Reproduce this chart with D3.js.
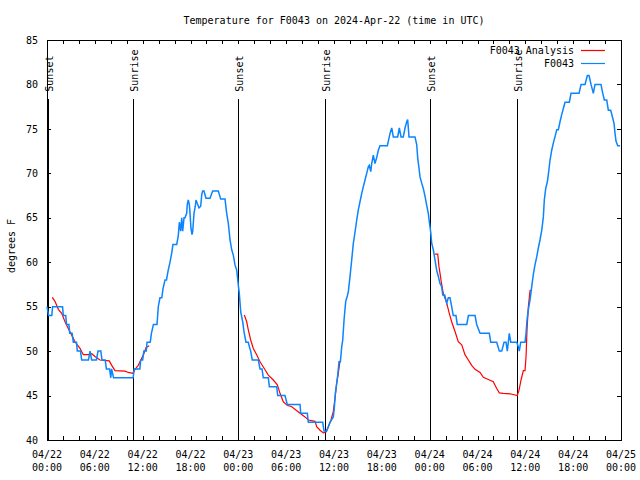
<!DOCTYPE html>
<html>
<head>
<meta charset="utf-8">
<script src="https://cdn.jsdelivr.net/npm/d3@7"></script>
<style>
  html, body { margin: 0; padding: 0; background: #fff; }
  svg text { font-family: "DejaVu Sans Mono", "Liberation Mono", monospace; font-size: 10px; fill: #000; }
</style>
</head>
<body>
<svg id="chart" width="640" height="480"></svg>
<script>
// ---------------- data ----------------
const titleText = "Temperature for F0043 on 2024-Apr-22 (time in UTC)";
const yLabelText = "degrees F";
const seriesNames = ["F0043 Analysis", "F0043"];
const startUTC = Date.UTC(2024, 3, 22, 0, 0); // 04/22 00:00 UTC
const spanHours = 72;
const yTicks = [40, 45, 50, 55, 60, 65, 70, 75, 80, 85];
const labelEveryHours = 6;
const minorEveryHours = 2;

const sunsetHours = [0.12, 24.0, 48.08];
const sunriseHours = [10.83, 34.91, 58.99];

// observed station temperature [hours since start, degF]
const observed = [
[0.00,55],[0.20,54],[0.60,54],[0.70,55],[1.95,55],[2.05,54],[2.35,54],[2.45,53],[2.75,53],[2.85,52],
[3.15,52],[3.30,51],[3.70,51],[3.80,50],[4.20,50],[4.35,49],[5.20,49],[5.40,50],[5.60,49],[6.20,49],
[6.40,50],[6.75,50],[6.90,49],[7.30,49],[7.45,48],[7.85,48],[8.00,47],[8.10,48],[8.35,47],[10.80,47],
[10.95,48],[11.65,48],[11.75,49],[12.00,49],[12.15,50],[12.45,50],[12.55,51],[12.95,51],[13.10,52],[13.35,53],
[13.80,53],[13.96,55],[14.17,56],[14.40,56],[14.55,57],[14.80,58],[14.99,58],[15.18,59],[15.43,60],[15.64,61],
[15.80,62],[16.27,62],[16.47,63],[16.60,64.5],[16.77,63.5],[16.90,65],[17.02,63.5],[17.19,65],[17.31,65],[17.52,65.5],
[17.60,66.5],[17.72,67],[17.85,66.5],[17.94,65.5],[18.06,63.8],[18.19,63.1],[18.28,63.5],[18.44,65.5],[18.60,66.3],[18.69,67],
[18.85,66.6],[19.07,66.1],[19.28,66.3],[19.41,67.6],[19.53,68],[19.69,68],[19.94,67.2],[20.45,67.2],[20.78,68],[21.49,68],
[21.79,67.1],[22.33,67.1],[22.54,65.5],[22.74,64.4],[22.96,62.5],[23.17,61.4],[23.37,60.8],[23.58,59.7],[23.80,59.1],[24.00,57.4],
[24.12,56.5],[24.30,54.4],[24.55,53.3],[24.71,52.2],[24.96,51],[25.25,51],[25.38,50.5],[25.55,50],[25.75,49],[26.51,49],
[26.72,48],[26.97,48],[27.13,47],[27.76,47],[27.89,46],[28.81,46],[28.94,45],[29.85,45],[30.14,44],[31.74,44],
[31.82,43],[32.65,43],[32.78,42],[34.58,42],[34.75,41],[35.08,41],[35.29,41.5],[35.50,42],[35.71,42.3],[35.91,42.6],
[36.04,43.6],[36.16,45.2],[36.34,46.4],[36.47,47.3],[36.63,48.8],[36.80,48.8],[36.97,50.5],[37.09,51.2],[37.26,53.5],[37.47,55.6],
[37.67,56.2],[37.80,56.7],[38.01,58.4],[38.22,60.25],[38.42,62.1],[38.64,63.4],[38.85,64.75],[39.05,65.9],[39.26,66.8],[39.48,67.75],
[39.68,68.5],[39.89,69.25],[40.10,70],[40.31,70.75],[40.43,70.9],[40.61,70.2],[40.73,71.1],[40.93,72.05],[41.14,71.1],[41.36,71.8],
[41.56,72.6],[41.77,73.1],[42.69,73.1],[42.81,73.6],[43.03,74.5],[43.24,75.1],[43.44,74.1],[43.99,74.1],[44.19,75.1],[44.41,74.1],
[44.69,74.1],[44.91,75.1],[45.12,75.8],[45.24,76.05],[45.41,74.1],[46.16,74.1],[46.38,73.2],[46.50,71.7],[46.66,70.6],[46.79,69.6],
[47.00,68.9],[47.20,68.3],[47.42,67.4],[47.63,66.4],[47.83,65.5],[47.95,64.6],[48.13,63.4],[48.26,62.1],[48.46,61.4],[48.67,60.25],
[48.88,59.1],[49.09,58.4],[49.30,57.6],[49.51,57.25],[49.64,56.3],[49.89,56.3],[50.14,55.4],[50.34,56],[50.55,56],[50.76,55],
[50.96,54],[51.30,54],[51.46,53],[52.65,53],[52.86,54],[53.69,54],[53.90,53],[54.32,52],[55.48,52],[55.66,51],
[56.41,51],[56.74,50],[57.04,50],[57.33,51],[57.58,51],[57.74,50],[57.99,52],[58.17,51],[58.92,51],[59.12,50.5],
[59.24,50],[59.42,51],[59.96,51],[60.09,52],[60.21,53.5],[60.38,54.7],[60.59,55.75],[60.80,57.25],[61.00,58.6],[61.21,59.7],
[61.43,60.6],[61.63,61.6],[61.84,62.5],[62.06,63.6],[62.26,65.1],[62.38,67],[62.56,68.3],[62.76,69.05],[62.88,69.8],[63.10,71.5],
[63.31,72.6],[63.51,73.4],[63.72,74.1],[63.94,74.9],[64.14,74.9],[64.35,75.8],[64.56,76.6],[64.77,77.3],[64.98,78],[65.52,78],
[65.73,79],[66.74,79],[66.99,80],[67.49,80],[67.78,81],[67.99,81],[68.24,80],[68.53,79],[68.74,80],[69.49,80],
[69.71,79],[69.91,78.25],[70.21,78.25],[70.41,77.1],[70.71,77.1],[70.91,76.4],[71.13,75.6],[71.25,74.5],[71.38,73.6],[71.59,73.1],
[71.88,73.1]
];

// analysis temperature, three night-time segments [hours, degF]
const analysisNight1 = [
[0.66,56.05],[1.00,55.6],[1.42,54.7],[1.84,54.25],[2.26,53.3],[2.67,52.55],[3.10,51.8],[3.51,51.05],[4.14,50.3],[4.55,49.6],
[5.18,49.6],[5.61,49.7],[6.02,49.4],[6.65,49.0],[7.81,48.9],[8.12,48.4],[8.53,47.8],[9.78,47.75],[10.20,47.6],[10.75,47.5],
[11.04,47.95],[11.45,48.4],[11.88,49.2],[12.17,49.75],[12.42,50.4],[12.83,50.6]
];
const analysisNight2 = [
[24.75,54.06],[25.05,53.3],[25.25,52.4],[25.55,51.25],[25.88,50.3],[26.30,49.6],[26.72,48.8],[27.35,47.9],[27.76,47.3],[28.39,46.75],
[28.89,46.2],[29.23,45.25],[29.64,44.3],[30.14,43.9],[30.70,43.75],[31.74,43.0],[32.36,42.6],[32.78,42.25],[33.62,42.1],[33.83,41.5],
[34.25,41.1],[34.66,40.8],[35.00,40.9],[35.29,41.5],[35.62,42.25],[35.91,43.2],[36.13,44.7],[36.34,46.4],[36.54,47.5],[36.75,48.9]
];
const analysisNight3 = [
[48.67,60.9],[49.01,60.9],[49.17,59.5],[49.30,58.75],[49.42,58],[49.59,57.1],[49.71,56.5],[50.14,55.4],[50.46,54.25],[50.76,53.3],
[51.18,52.2],[51.59,51.05],[52.02,50.7],[52.43,49.6],[52.85,49.0],[53.27,48.4],[53.69,47.95],[54.32,47.6],[54.73,47.05],[55.36,46.8],
[55.98,46.55],[56.41,45.8],[56.74,45.3],[57.24,45.25],[58.08,45.2],[58.99,45.0],[59.21,45.6],[59.46,46.75],[59.75,47.8],[59.96,47.8],
[60.09,49.4],[60.21,52.4],[60.38,55.0],[60.59,56.8],[60.84,56.9]
];

// ---------------- drawing ----------------
const colors = { analysis: "#ff0000", observed: "#0a84ff" };
const W = 640, H = 480;
const margin = { left: 47, right: 19, top: 40, bottom: 40 };
const hourMs = 3600e3;
const toDate = h => new Date(startUTC + h * hourMs);

const svg = d3.select("#chart");
const x = d3.scaleUtc()
  .domain([toDate(0), toDate(spanHours)])
  .range([margin.left, W - margin.right]);
const y = d3.scaleLinear()
  .domain([d3.min(yTicks), d3.max(yTicks)])
  .range([H - margin.bottom, margin.top]);

const x0 = x.range()[0], x1 = x.range()[1];
const y0 = y.range()[0], y1 = y.range()[1];

// title
svg.append("text")
  .attr("x", (x0 + x1) / 2).attr("y", 24)
  .attr("text-anchor", "middle")
  .text(titleText);

// y label
svg.append("text")
  .attr("transform", `translate(15,${(y0 + y1) / 2 + 6}) rotate(-90)`)
  .attr("text-anchor", "middle")
  .text(yLabelText);

const minorTicks = d3.utcHour.every(minorEveryHours).range(toDate(0), toDate(spanHours + 0.01));
const labelTicks = d3.utcHour.every(labelEveryHours).range(toDate(0), toDate(spanHours + 0.01));

// axes (ticks pointing inward on all four sides)
const gB = svg.append("g").attr("transform", `translate(0,${y0})`)
  .call(d3.axisBottom(x).tickValues(minorTicks).tickSizeInner(-4).tickSizeOuter(0).tickFormat(""));
const gT = svg.append("g").attr("transform", `translate(0,${y1})`)
  .call(d3.axisTop(x).tickValues(minorTicks).tickSizeInner(-4).tickSizeOuter(0).tickFormat(""));
const gL = svg.append("g").attr("transform", `translate(${x0},0)`)
  .call(d3.axisLeft(y).tickValues(yTicks).tickSizeInner(-4).tickSizeOuter(0).tickPadding(9).tickFormat(d3.format("d")));
const gR = svg.append("g").attr("transform", `translate(${x1},0)`)
  .call(d3.axisRight(y).tickValues(yTicks).tickSizeInner(-4).tickSizeOuter(0).tickFormat(""));
[gB, gT, gL, gR].forEach(g => {
  g.select(".domain").remove();
  g.selectAll(".tick line").attr("stroke", "#000").attr("shape-rendering", "crispEdges");
  g.attr("font-family", null).attr("font-size", null);
});
gL.selectAll(".tick text").attr("fill", "#000");

// x tick labels (two lines)
const fmtDate = d3.utcFormat("%m/%d"), fmtTime = d3.utcFormat("%H:%M");
const xl = svg.append("g");
labelTicks.forEach(d => {
  const t = xl.append("text").attr("text-anchor", "middle").attr("x", x(d));
  t.append("tspan").attr("x", x(d)).attr("y", y0 + 18).text(fmtDate(d));
  t.append("tspan").attr("x", x(d)).attr("y", y0 + 31).text(fmtTime(d));
});

// plot frame
svg.append("rect")
  .attr("x", x0).attr("y", y1).attr("width", x1 - x0).attr("height", y0 - y1)
  .attr("fill", "none").attr("stroke", "#000").attr("shape-rendering", "crispEdges");

// sunrise / sunset markers
const events = sunsetHours.map(h => ({ h, label: "Sunset" }))
  .concat(sunriseHours.map(h => ({ h, label: "Sunrise" })));
const lineTopTemp = 78.4;
const ev = svg.append("g");
events.forEach(e => {
  const px = Math.round(x(toDate(e.h))) + 0.5;
  ev.append("line")
    .attr("x1", px).attr("x2", px)
    .attr("y1", y(lineTopTemp)).attr("y2", y0)
    .attr("stroke", "#000").attr("stroke-width", 1).attr("shape-rendering", "crispEdges");
  ev.append("text")
    .attr("transform", `translate(${px + 4.5},${y(lineTopTemp) - 7}) rotate(-90)`)
    .attr("text-anchor", "start")
    .text(e.label);
});

// lines
const line = d3.line()
  .x(d => x(toDate(d[0])))
  .y(d => y(d[1]));

const plot = svg.append("g");
[analysisNight1, analysisNight2, analysisNight3].forEach(seg => {
  plot.append("path").datum(seg)
    .attr("d", line)
    .attr("fill", "none")
    .attr("stroke", colors.analysis)
    .attr("stroke-width", 1.2);
});
plot.append("path").datum(observed)
  .attr("d", line)
  .attr("fill", "none")
  .attr("stroke", colors.observed)
  .attr("stroke-width", 1.5);

// legend
const legend = svg.append("g");
[[seriesNames[0], colors.analysis], [seriesNames[1], colors.observed]].forEach((s, i) => {
  const ly = 50 + i * 13;
  legend.append("text")
    .attr("x", 574).attr("y", ly + 3.5)
    .attr("text-anchor", "end")
    .text(s[0]);
  legend.append("line")
    .attr("x1", 581).attr("x2", 605)
    .attr("y1", ly + 0.5).attr("y2", ly + 0.5)
    .attr("stroke", s[1]).attr("stroke-width", 1.2);
});
</script>
</body>
</html>
